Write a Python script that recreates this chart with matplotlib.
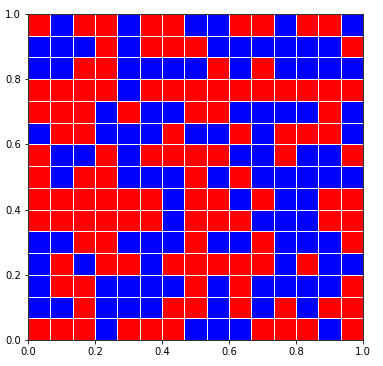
import numpy as np
import matplotlib
matplotlib.use('Agg')
import matplotlib.pyplot as plt
from matplotlib.colors import ListedColormap

# grid rows from top to bottom, R = red (1), B = blue (0)
rows = [
    "RBRRBRRBBRRBRRB",
    "BBBRBRRRBBBBBBR",
    "BBRRBBBBRBRBBBB",
    "RRRRBRRRRRRRRRR",
    "RRRBRBBRRBBBBRB",
    "BRRBBBRBBRBRRRB",
    "RBBRBRRRRBBRBBR",
    "RBRRBBBRBRBBBBB",
    "RRRRRRBRRBRBBRR",
    "RRRRRRBRRRBBBRR",
    "BBRRBBBRBBRBBBR",
    "BRBRRBRRRRRBRBB",
    "BRRBBBBRBRBBBBR",
    "BBRBBBRRBRBRBRR",
    "RRRBRRRBBBRRRBR",
]
tick_vals = [0.0, 0.2, 0.4, 0.6, 0.8, 1.0]

grid = np.array([[1 if c == 'R' else 0 for c in r] for r in rows])[::-1]
n = grid.shape[0]
edges = np.linspace(0, 1, n + 1)

fig = plt.figure(figsize=(383 / 72, 366 / 72), dpi=72)
ax = fig.add_axes([28 / 383, 26 / 366, 335 / 383, 326 / 366])
ax.pcolormesh(edges, edges, grid, cmap=ListedColormap(['blue', 'red']),
              edgecolors='white', linewidth=1)
ax.set_xlim(0, 1)
ax.set_ylim(0, 1)
ax.set_xticks(tick_vals)
ax.set_yticks(tick_vals)
ax.tick_params(labelsize=10)

fig.savefig('out.png', dpi=72)
